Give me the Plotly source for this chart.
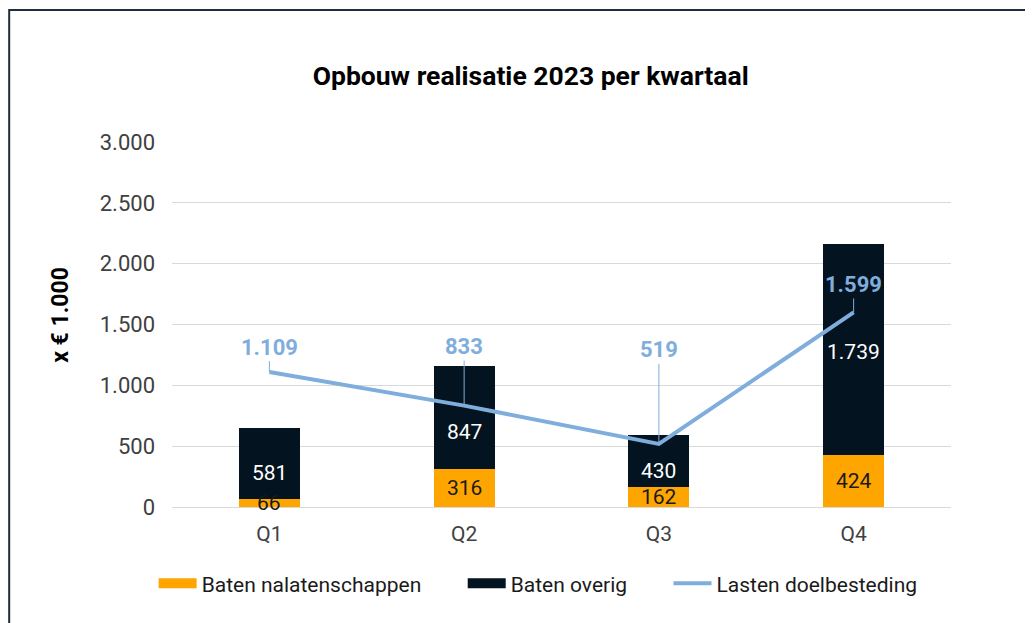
import plotly.graph_objects as go

kwartalen = ["Q1", "Q2", "Q3", "Q4"]
baten_nalatenschappen = [66, 316, 162, 424]
baten_overig = [581, 847, 430, 1739]
lasten_doelbesteding = [1109, 833, 519, 1599]
label_offsets = [-25, -59, -94, -28]
overig_label_shift = [-9, -15, -10, -2]

oranje = "#FFA500"
donker = "#03131F"
blauw = "#7FAEDC"


def nl(v):
    return f"{v:,}".replace(",", ".")


fig = go.Figure()
fig.add_trace(go.Bar(
    x=kwartalen, y=baten_nalatenschappen, name="Baten nalatenschappen",
    marker=dict(color=oranje, line=dict(width=0)), showlegend=False,
))
fig.add_trace(go.Bar(
    x=kwartalen, y=baten_overig, name="Baten overig",
    marker=dict(color=donker, line=dict(width=0)), showlegend=False,
))
fig.add_trace(go.Scatter(
    x=kwartalen, y=lasten_doelbesteding, name="Lasten doelbesteding",
    mode="lines", line=dict(color=blauw, width=4), showlegend=False,
))

# legenda met brede blokjes zoals in Excel
fig.add_trace(go.Scatter(x=[None], y=[None], mode="lines", name="Baten nalatenschappen       ",
                         line=dict(color=oranje, width=10)))
fig.add_trace(go.Scatter(x=[None], y=[None], mode="lines", name="Baten overig       ",
                         line=dict(color=donker, width=10)))
fig.add_trace(go.Scatter(x=[None], y=[None], mode="lines", name="Lasten doelbesteding",
                         line=dict(color=blauw, width=4)))

# labels in de staven
for k, v in zip(kwartalen, baten_nalatenschappen):
    fig.add_annotation(x=k, y=v / 2, text=nl(v), showarrow=False,
                       font=dict(color="#1a1a1a", size=21))
for k, b, v, s in zip(kwartalen, baten_nalatenschappen, baten_overig, overig_label_shift):
    fig.add_annotation(x=k, y=b + v / 2, text=nl(v), showarrow=False, yshift=s,
                       font=dict(color="white", size=21))

for k, v, off in zip(kwartalen, lasten_doelbesteding, label_offsets):
    fig.add_annotation(
        x=k, y=v, text="<b>" + nl(v) + "</b>",
        showarrow=True, arrowhead=0, arrowwidth=1, arrowcolor=blauw,
        ax=0, ay=off, font=dict(color=blauw, size=22),
    )

# y-as titel
fig.add_annotation(x=-0.144, y=0.526, xref="paper", yref="paper", text="<b>x € 1.000</b>",
                   textangle=-90, showarrow=False, xanchor="center", yanchor="middle",
                   font=dict(size=23, color="black"))

# rand om de figuur
fig.add_shape(type="rect", xref="paper", yref="paper",
              x0=-0.209, x1=1.3, y0=-0.5, y1=1.3616,
              line=dict(color="#1f2d3d", width=2), fillcolor="rgba(0,0,0,0)")

fig.update_layout(
    barmode="stack",
    bargap=0.687,
    separators=",.",
    title=dict(text="<b>Opbouw realisatie 2023 per kwartaal</b>", x=0.506, xanchor="center",
               y=0.892, yanchor="middle", font=dict(size=26.5, color="black")),
    font=dict(family="Roboto", size=21, color="#404040"),
    xaxis=dict(showgrid=False, linecolor="#d9d9d9", linewidth=1, ticks="",
               tickfont=dict(size=21, color="#404040"), ticklabelstandoff=8),
    yaxis=dict(range=[0, 3000], dtick=500, tickformat=",", gridcolor="#d9d9d9",
               zeroline=False, tickfont=dict(size=22, color="#404040"), ticklabelstandoff=16),
    legend=dict(orientation="h", x=0.47, xanchor="center", y=-0.21, yanchor="middle",
                font=dict(size=21, color="#1a1a1a"), traceorder="normal", itemwidth=38),
    plot_bgcolor="white",
    paper_bgcolor="white",
    width=1033, height=623,
    margin=dict(l=164, r=90, t=134, b=124),
)

fig.write_html("out.html")
